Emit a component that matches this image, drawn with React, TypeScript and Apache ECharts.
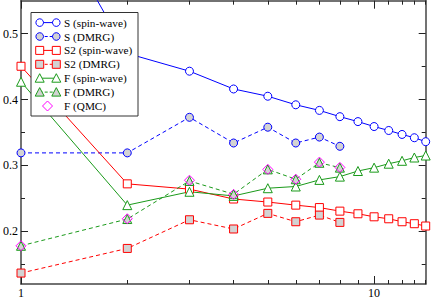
import React, { useEffect, useRef } from "react";
import * as echarts from "echarts";

const N_SW = [1, 2, 3, 4, 5, 6, 7, 8, 9, 10, 11, 12, 13, 14];
const N_DMRG = [1, 2, 3, 4, 5, 6, 7, 8];

const S_SW = [0.755, 0.47, 0.443, 0.416, 0.405, 0.392, 0.3835, 0.374, 0.3665, 0.359, 0.353, 0.347, 0.342, 0.336];
const S_DMRG = [0.319, 0.319, 0.373, 0.334, 0.358, 0.334, 0.343, 0.329];
const S2_SW = [0.4505, 0.272, 0.264, 0.249, 0.2444, 0.2397, 0.236, 0.2306, 0.2266, 0.222, 0.219, 0.2145, 0.2115, 0.208];
const S2_DMRG = [0.1366, 0.174, 0.2175, 0.2035, 0.2272, 0.2145, 0.2246, 0.2135];
const F_SW = [0.427, 0.2397, 0.26, 0.2537, 0.2654, 0.268, 0.278, 0.283, 0.2915, 0.2966, 0.3026, 0.307, 0.312, 0.315];
const F_DMRG = [0.178, 0.2186, 0.2764, 0.2563, 0.294, 0.279, 0.304, 0.2966];
const F_QMC = [0.178, 0.219, 0.2775, 0.256, 0.294, 0.279, 0.305, 0.297];

const X_MAJOR = [1, 10];
const X_MINOR = [2, 3, 4, 5, 6, 7, 8, 9, 11, 12, 13, 14];
const Y_MAJOR = [0.2, 0.3, 0.4, 0.5];
const Y_MINOR = [0.15, 0.25, 0.35, 0.45];

const LEGEND_LABELS = [
  "S (spin-wave)",
  "S (DMRG)",
  "S2 (spin-wave)",
  "S2 (DMRG)",
  "F (spin-wave)",
  "F (DMRG)",
  "F (QMC)",
];

const BLUE = "#0000ff";
const RED = "#ff0000";
const GREEN = "#1a9a1a";
const MAGENTA = "#ff00ff";
const GRAY = "#d3d3d3";
const FONT = "Liberation Serif";

const pairs = (xs: number[], ys: number[]) => ys.map((y, i) => [xs[i], y]);

function legendFontSize(): number {
  // target: "S (spin-wave)" is about 62.7px wide in the reference
  try {
    const ctx = document.createElement("canvas").getContext("2d");
    if (!ctx) return 11.3;
    ctx.font = `11.3px ${FONT}`;
    const w = ctx.measureText(LEGEND_LABELS[0]).width;
    if (!w) return 11.3;
    const fs = (11.3 * 62.7) / w;
    return Math.max(10, Math.min(15, fs));
  } catch (e) {
    return 11.3;
  }
}

export default function App() {
  const ref = useRef<HTMLDivElement>(null);
  useEffect(() => {
    const chart = echarts.init(ref.current!, null, { renderer: "svg" });
    const axisLine = { show: true, lineStyle: { color: "#444", width: 1.5 } };
    const mkX = (pos: string, vals: number[], len: number, labels: boolean, line: boolean) => ({
      type: "log",
      logBase: 10,
      min: 1,
      max: 14,
      position: pos,
      axisLine: { ...axisLine, show: line },
      axisTick: { show: true, inside: true, length: len, customValues: vals, lineStyle: { color: "#222", width: 1 } },
      axisLabel: labels
        ? { show: true, customValues: vals, fontFamily: FONT, fontSize: 12, color: "#000", margin: 3 }
        : { show: false },
      splitLine: { show: false },
      minorTick: { show: false },
    });
    const mkY = (pos: string, vals: number[], len: number, labels: boolean, line: boolean) => ({
      type: "value",
      min: 0.12,
      max: 0.55,
      position: pos,
      axisLine: { ...axisLine, show: line },
      axisTick: { show: true, inside: true, length: len, customValues: vals, lineStyle: { color: "#222", width: 1 } },
      axisLabel: labels
        ? { show: true, customValues: vals, fontFamily: FONT, fontSize: 12, color: "#000", margin: 3 }
        : { show: false },
      splitLine: { show: false },
    });

    const line = (
      name: string,
      xs: number[],
      ys: number[],
      color: string,
      symbol: string,
      size: number,
      fill: string,
      dashed: boolean,
      showLine = true
    ) => ({
      name,
      type: "line",
      data: pairs(xs, ys),
      symbol,
      symbolSize: size,
      showSymbol: true,
      clip: true,
      z: 2,
      lineStyle: showLine
        ? { color, width: 1, type: dashed ? [4, 3] : "solid" }
        : { width: 0, opacity: 0 },
      itemStyle: { color: fill, borderColor: color, borderWidth: 1 },
      emphasis: { disabled: true },
    });

    // legend graphics
    const Z = 200;
    const L = 31, T = 12.5, W = 107, H = 103.5;
    const rowY0 = 22.6, rowStep = 13.9;
    const x1 = 39.7, x2 = 56.3, tx = 64;
    const children: any[] = [
      { type: "rect", z: Z, shape: { x: L, y: T, width: W, height: H }, style: { fill: "#fff", stroke: "#333", lineWidth: 1 } },
    ];
    const sym = (kind: string, cx: number, cy: number, color: string, fill: string) => {
      if (kind === "circle") return { type: "circle", z: Z + 2, shape: { cx, cy, r: 3.8 }, style: { fill, stroke: color, lineWidth: 1 } };
      if (kind === "rect") return { type: "rect", z: Z + 2, shape: { x: cx - 4, y: cy - 4, width: 8, height: 8 }, style: { fill, stroke: color, lineWidth: 1 } };
      if (kind === "triangle")
        return { type: "polygon", z: Z + 2, shape: { points: [[cx, cy - 4.5], [cx + 4.5, cy + 4], [cx - 4.5, cy + 4]] }, style: { fill, stroke: color, lineWidth: 1 } };
      return { type: "polygon", z: Z + 2, shape: { points: [[cx, cy - 5], [cx + 5, cy], [cx, cy + 5], [cx - 5, cy]] }, style: { fill, stroke: color, lineWidth: 1 } };
    };
    const defs = [
      ["circle", BLUE, "#fff", false],
      ["circle", BLUE, GRAY, true],
      ["rect", RED, "#fff", false],
      ["rect", RED, GRAY, true],
      ["triangle", GREEN, "#fff", false],
      ["triangle", GREEN, GRAY, true],
    ] as const;
    defs.forEach((d, i) => {
      const y = rowY0 + rowStep * i;
      children.push({
        type: "line",
        z: Z + 1,
        shape: { x1, y1: y, x2, y2: y },
        style: { stroke: d[1], lineWidth: 1, lineDash: d[3] ? [3, 2] : null },
      });
      children.push(sym(d[0], x1, y, d[1], d[2]));
      children.push(sym(d[0], x2, y, d[1], d[2]));
    });
    children.push(sym("diamond", 47.5, rowY0 + rowStep * 6, MAGENTA, "#fff"));

    const fs = legendFontSize();
    LEGEND_LABELS.forEach((t, i) => {
      children.push({
        type: "text",
        z: Z + 3,
        x: tx,
        y: rowY0 + rowStep * i,
        style: {
          text: t,
          fontSize: fs,
          fontFamily: FONT,
          fill: "#000",
          verticalAlign: "middle",
          align: "left",
        },
      });
    });

    chart.setOption({
      animation: false,
      backgroundColor: "#fff",
      grid: { left: 19.3, right: 5.3, top: 0.7, bottom: 13.3, containLabel: false },
      xAxis: [
        mkX("bottom", X_MAJOR, 8, true, true),
        mkX("bottom", X_MINOR, 4, false, false),
        mkX("top", X_MAJOR, 8, false, true),
        mkX("top", X_MINOR, 4, false, false),
      ],
      yAxis: [
        mkY("left", Y_MAJOR, 7, true, true),
        mkY("left", Y_MINOR, 4, false, false),
        mkY("right", Y_MAJOR, 7, false, true),
        mkY("right", Y_MINOR, 4, false, false),
      ],
      series: [
        line("S (spin-wave)", N_SW, S_SW, BLUE, "circle", 8, "#fff", false),
        line("S (DMRG)", N_DMRG, S_DMRG, BLUE, "circle", 8, GRAY, true),
        line("S2 (spin-wave)", N_SW, S2_SW, RED, "rect", 8, "#fff", false),
        line("S2 (DMRG)", N_DMRG, S2_DMRG, RED, "rect", 8, GRAY, true),
        line("F (spin-wave)", N_SW, F_SW, GREEN, "triangle", 9, "#fff", false),
        line("F (DMRG)", N_DMRG, F_DMRG, GREEN, "triangle", 9, GRAY, true),
        line("F (QMC)", N_DMRG, F_QMC, MAGENTA, "diamond", 10, "rgba(0,0,0,0)", false, false),
      ],
      graphic: [{ type: "group", z: Z, children }],
    });
    return () => chart.dispose();
  }, []);
  return (
    <div
      ref={ref}
      style={{ position: "fixed", left: 0, top: 0, width: 431, height: 299, background: "#fff" }}
    />
  );
}
